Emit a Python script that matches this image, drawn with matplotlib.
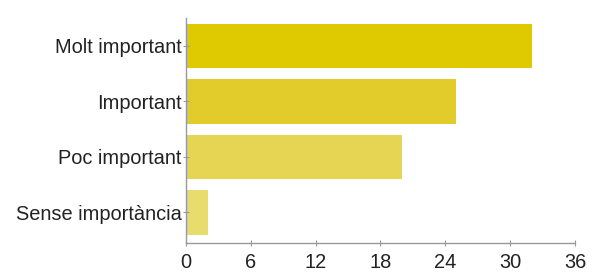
import matplotlib
matplotlib.use("Agg")
from matplotlib import pyplot as plt

categories = ["Molt important", "Important", "Poc important", "Sense importància"]
values = [32, 25, 20, 2]
colors = ["#dfc900", "#e2cc2c", "#e6d552", "#e8dc6c"]
xticks = [0, 6, 12, 18, 24, 30, 36]

plt.rcParams['font.family'] = ['Liberation Sans', 'DejaVu Sans']

fig = plt.figure(figsize=(5.98, 2.78), dpi=100)
ax = fig.add_axes([0.311, 0.126, 0.6505, 0.809])

ax.barh(range(len(values)), values, height=0.8, color=colors)
ax.set_yticks(range(len(categories)))
ax.set_yticklabels(categories)
ax.set_ylim(3.55, -0.5)
ax.set_xlim(0, 36)
ax.set_xticks(xticks)

for s in ["top", "right"]:
    ax.spines[s].set_visible(False)
for s in ["left", "bottom"]:
    ax.spines[s].set_color("#999999")
    ax.spines[s].set_linewidth(1)
ax.tick_params(colors="#999999", labelcolor="#222222", labelsize=14.4,
               length=4, width=0.8, direction="inout")
ax.tick_params(axis="y", pad=1)
ax.tick_params(axis="x", pad=5)

fig.savefig("out.png", dpi=100)
